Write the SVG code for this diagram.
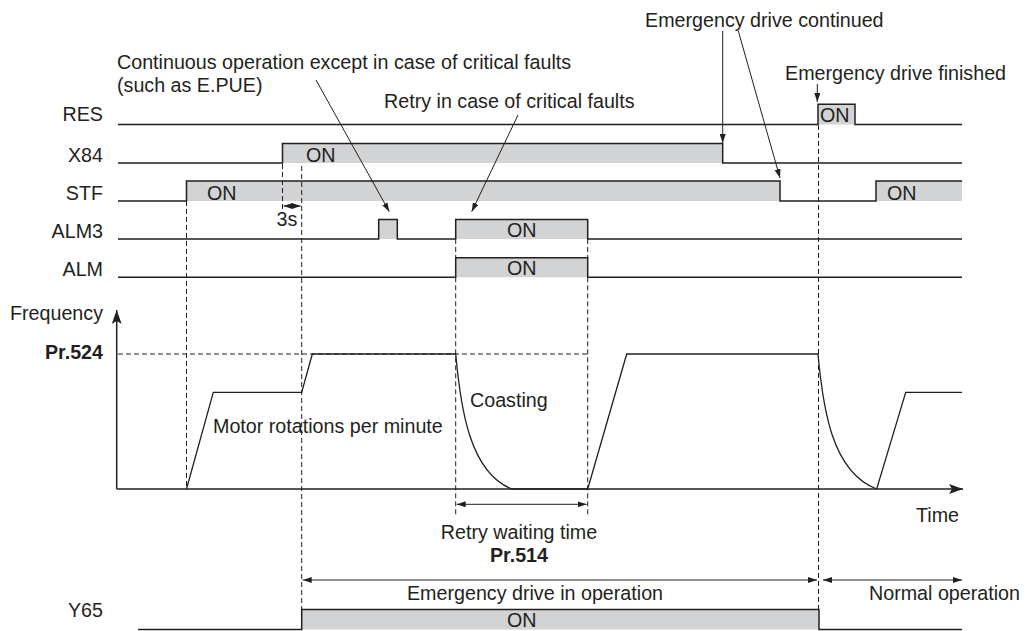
<svg xmlns="http://www.w3.org/2000/svg" width="1027" height="631" viewBox="0 0 1027 631">
<defs>
<style>
text{font-family:"Liberation Sans",Arial,sans-serif;font-size:19.7px;fill:#231f20}
.b{font-weight:bold}
.sig{fill:none;stroke:#231f20;stroke-width:1.5}
.fill{fill:#d1d3d4;stroke:none}
.dash{fill:none;stroke:#231f20;stroke-width:1;stroke-dasharray:5 3}
.thin{fill:none;stroke:#231f20;stroke-width:1}
.ann{fill:none;stroke:#231f20;stroke-width:1;marker-end:url(#ah)}
.dim{fill:none;stroke:#231f20;stroke-width:1;marker-start:url(#ahs);marker-end:url(#ah)}
</style>
<marker id="ah" markerWidth="9" markerHeight="6" refX="9" refY="3" orient="auto" markerUnits="userSpaceOnUse"><path d="M0,0 L9,3 L0,6 z" fill="#231f20"/></marker>
<marker id="ahs" markerWidth="9" markerHeight="6" refX="0" refY="3" orient="auto" markerUnits="userSpaceOnUse"><path d="M9,0 L0,3 L9,6 z" fill="#231f20"/></marker>
<marker id="big" markerWidth="14" markerHeight="10" refX="14" refY="5" orient="auto" markerUnits="userSpaceOnUse"><path d="M0,0 L14,5 L0,10 L3,5 z" fill="#231f20"/></marker>
</defs>

<g id="RES">
<text x="103" y="121" text-anchor="end">RES</text>
<rect class="fill" x="818" y="104.3" width="37" height="20.2"/>
<path class="sig" d="M118,124.5 H818 V104.3 H855 V124.5 H962"/>
<text x="820" y="122">ON</text>
</g>

<g id="X84">
<text x="103" y="162" text-anchor="end">X84</text>
<rect class="fill" x="282.5" y="143.5" width="440.2" height="19.5"/>
<path class="sig" d="M118,163 H282.5 V143.5 H722.7 V163 H962"/>
<text x="306" y="162">ON</text>
</g>

<g id="STF">
<text x="103" y="200" text-anchor="end">STF</text>
<rect class="fill" x="186.5" y="181" width="593.5" height="20"/>
<rect class="fill" x="876" y="181" width="86" height="20"/>
<path class="sig" d="M118,201 H186.5 V181 H780 V201 H876 V181 H962"/>
<text x="207" y="199.5">ON</text>
<text x="887" y="199.5">ON</text>
</g>

<g id="ALM3">
<text x="103" y="238" text-anchor="end">ALM3</text>
<rect class="fill" x="378.7" y="219.5" width="18.6" height="19.5"/>
<rect class="fill" x="455.7" y="219.5" width="132" height="19.5"/>
<path class="sig" d="M118,239 H378.7 V219.5 H397.3 V239 H455.7 V219.5 H587.7 V239 H962"/>
<text x="507" y="236.5">ON</text>
</g>

<g id="ALM">
<text x="103" y="276" text-anchor="end">ALM</text>
<rect class="fill" x="455.7" y="257.7" width="132" height="19.6"/>
<path class="sig" d="M118,277.3 H455.7 V257.7 H587.7 V277.3 H962"/>
<text x="507" y="275">ON</text>
</g>

<g id="Y65">
<text x="103" y="617" text-anchor="end">Y65</text>
<rect class="fill" x="301.7" y="609.5" width="517.3" height="20"/>
<path class="sig" d="M138,629.5 H301.7 V609.5 H819 V629.5 H962"/>
<text x="507" y="627">ON</text>
</g>

<g id="guides">
<path class="dash" d="M186.5,201 V489"/>
<path class="dash" d="M282.5,164 V212"/>
<path class="dash" d="M301.7,166 V609"/>
<path class="dash" d="M455.7,239 V257.7 M455.7,277.3 V517"/>
<path class="dash" d="M587.7,239 V257.7 M587.7,277.3 V517"/>
<path class="dash" d="M818.5,125 V609"/>
<path class="dash" d="M118,354 H587.7"/>
</g>

<g id="frequency">
<text x="103" y="320" text-anchor="end">Frequency</text>
<text class="b" x="103" y="358.5" text-anchor="end">Pr.524</text>
<path class="thin" d="M116.7,489 V310" marker-end="url(#big)" style="stroke-width:1.5"/>
<path class="thin" d="M116.7,489 H963" marker-end="url(#big)" style="stroke-width:1.5"/>
<path class="thin" style="stroke-width:1.3" d="M186.5,489 L213.3,392.3 H301.7 L312.3,354 H455.7 C460.7,409 469.7,472 511.7,489 H587.7 L626.7,354 H818 C823,409 832,472 876.7,489 L905.7,392.3 H962"/>
<text x="470" y="407">Coasting</text>
<text x="213" y="433">Motor rotations per minute</text>
<text x="959" y="522" text-anchor="end">Time</text>
</g>

<g id="connectors">
<path class="dim" d="M283.5,206 H300.7"/>
<path class="dim" d="M456.7,504.3 H586.7"/>
<path class="dim" d="M302.7,580 H817"/>
<path class="dim" d="M823,580 H962"/>
<path class="ann" d="M316,80 L389.3,211.7"/>
<path class="ann" d="M518,115 L471.7,211.7"/>
<path class="ann" d="M722.7,31 V143"/>
<path class="ann" d="M738.3,31 L780,178"/>
<path class="ann" d="M817.3,84 V102"/>
</g>

<g id="labels">
<text x="287" y="226" text-anchor="middle">3s</text>
<text x="117" y="69">Continuous operation except in case of critical faults</text>
<text x="117" y="92">(such as E.PUE)</text>
<text x="384" y="108">Retry in case of critical faults</text>
<text x="645" y="27">Emergency drive continued</text>
<text x="785" y="80">Emergency drive finished</text>
<text x="519" y="539" text-anchor="middle">Retry waiting time</text>
<text class="b" x="519" y="562" text-anchor="middle">Pr.514</text>
<text x="535" y="600" text-anchor="middle">Emergency drive in operation</text>
<text x="869" y="600">Normal operation</text>
</g>
</svg>
